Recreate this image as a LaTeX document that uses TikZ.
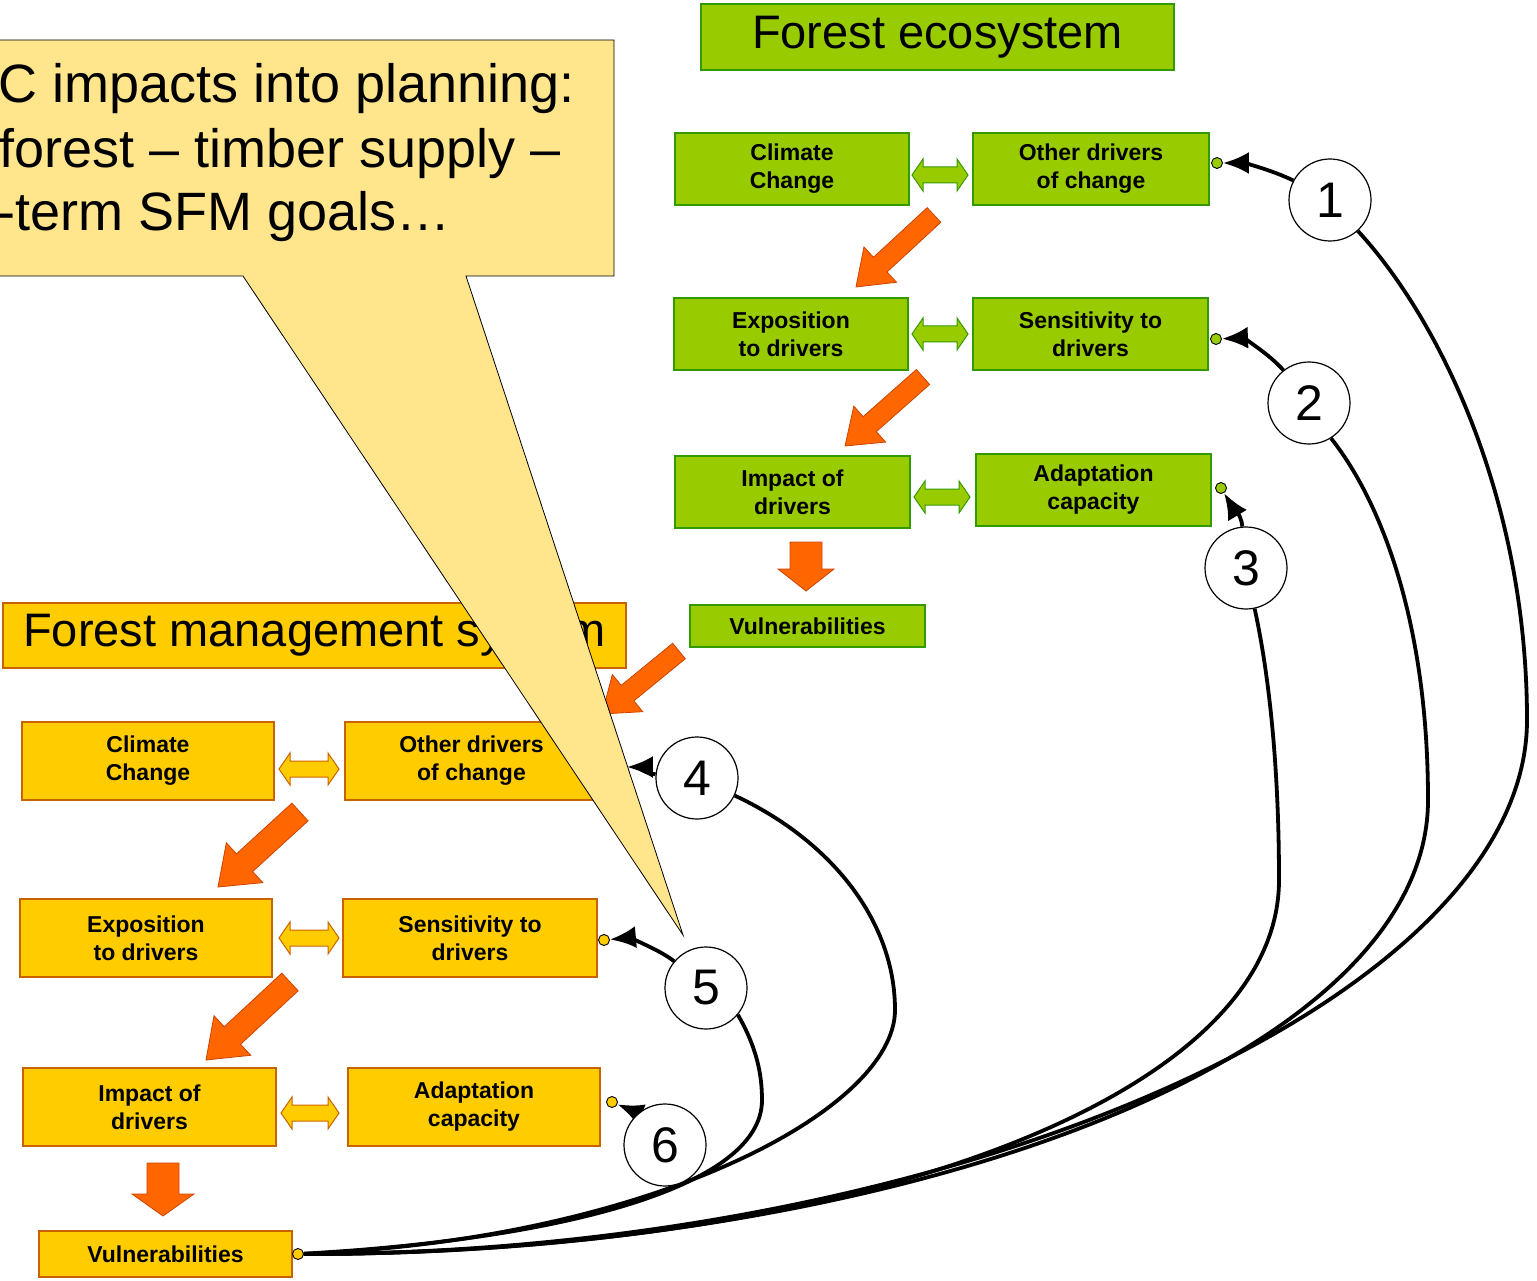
\documentclass[tikz,border=0pt]{standalone}
\usepackage{fontspec}
\setmainfont{Liberation Sans}
\usetikzlibrary{arrows.meta,calc}

\definecolor{ecogreen}{RGB}{153,204,0}
\definecolor{ecoline}{RGB}{51,153,0}
\definecolor{mgmtyellow}{RGB}{255,204,0}
\definecolor{mgmtline}{RGB}{200,100,0}
\definecolor{fatorange}{RGB}{255,102,0}
\definecolor{fatline}{RGB}{204,68,0}
\definecolor{bubblefill}{RGB}{255,230,140}

\pgfdeclarelayer{front}
\pgfsetlayers{main,front}

\tikzset{
  ebox/.style={draw=ecoline, fill=ecogreen, line width=1.2pt, align=center, inner sep=0pt, font=\fontsize{23}{28}\selectfont\bfseries},
  mbox/.style={draw=mgmtline, fill=mgmtyellow, line width=1.2pt, align=center, inner sep=0pt, font=\fontsize{23}{28}\selectfont\bfseries},
  titlebox/.style={font=\fontsize{47}{50}\selectfont},
  edbl/.style={draw=ecoline, fill=ecogreen, line width=1pt},
  mdbl/.style={draw=mgmtline, fill=mgmtyellow, line width=1pt},
  fatarr/.style={draw=fatline, fill=fatorange, line width=0.8pt},
  bubble/.style={draw=black, fill=bubblefill, line width=0.8pt},
  bubbletext/.style={anchor=base west, inner sep=0pt, font=\fontsize{54}{64}\selectfont},
  numc/.style={circle, draw, fill=white, line width=1.2pt, minimum size=82pt, inner sep=0pt, font=\fontsize{50}{50}\selectfont},
  edot/.style={circle, draw, fill=ecogreen, line width=0.9pt, minimum size=11pt, inner sep=0pt},
  mdot/.style={circle, draw, fill=mgmtyellow, line width=0.9pt, minimum size=11pt, inner sep=0pt},
  conn/.style={line width=3.8pt, black},
  arrowtip/.style={-{Latex[length=26pt,width=22pt]}}
}

% double arrow between two boxes: #1 style, #2 centre, #3 half length
\newcommand{\dblarrow}[3][]{%
  \draw[#1] (#2) ++(-#3,0) -- ++(11,-16) -- ++(0,8) -- ++({2*#3-22},0) -- ++(0,-8) -- ++(11,16)
    -- ++(-11,16) -- ++(0,-8) -- ++({-2*#3+22},0) -- ++(0,8) -- cycle;}

% block arrow: #1 tail, #2 tip, #3 head length, #4 head half width, #5 shaft half width
\newcommand{\fatarrow}[5]{%
  \filldraw[fatarr] (#2) -- ($(#2)!#3!(#1)!#4!90:(#1)$) -- ($(#2)!#3!(#1)!#5!90:(#1)$)
    -- ($(#1)!#5!-90:(#2)$) -- ($(#1)!#5!90:(#2)$)
    -- ($(#2)!#3!(#1)!#5!-90:(#1)$) -- ($(#2)!#3!(#1)!#4!-90:(#1)$) -- cycle;}

\begin{document}
\begin{tikzpicture}[x=1pt,y=-1pt]
\useasboundingbox (0,0) rectangle (1537,1281);
\clip (0,0) rectangle (1537,1281);

%Forest ecosystem
\node[ebox, titlebox, minimum width=473, minimum height=66] (eTitle) at (937.5,37) {Forest ecosystem};
\node[ebox, minimum width=234, minimum height=72] (eClim) at (792,169) {Climate\\Change};
\node[ebox, minimum width=236, minimum height=72] (eOther) at (1091,169) {Other drivers\\of change};
\node[ebox, minimum width=234, minimum height=72] (eExpo) at (791,334) {Exposition\\to drivers};
\node[ebox, minimum width=235, minimum height=72] (eSens) at (1090.5,334) {Sensitivity to\\drivers};
\node[ebox, minimum width=235, minimum height=72] (eImp) at (792.5,492) {Impact of\\drivers};
\node[ebox, minimum width=235, minimum height=72] (eAdapt) at (1093.5,490) {Adaptation\\capacity};
\node[ebox, minimum width=235, minimum height=42] (eVuln) at (807.5,626) {Vulnerabilities};
\dblarrow[edbl]{940,175}{28}
\dblarrow[edbl]{940,334}{28}
\dblarrow[edbl]{942,497}{28}
\fatarrow{934,215}{856,287}{33pt}{24pt}{10pt}
\fatarrow{923,377}{845,446}{33pt}{24pt}{10pt}
\fatarrow{806,542}{806,591}{22pt}{28pt}{16pt}

%Forest management system
\node[mbox, titlebox, minimum width=623, minimum height=65] (mTitle) at (314.5,635.5) {Forest management system};
\node[mbox, minimum width=252, minimum height=78] (mClim) at (148,761) {Climate\\Change};
\node[mbox, minimum width=253, minimum height=78] (mOther) at (471.5,761) {Other drivers\\of change};
\node[mbox, minimum width=252, minimum height=78] (mExpo) at (146,938) {Exposition\\to drivers};
\node[mbox, minimum width=254, minimum height=78] (mSens) at (470,938) {Sensitivity to\\drivers};
\node[mbox, minimum width=253, minimum height=78] (mImp) at (149.5,1107) {Impact of\\drivers};
\node[mbox, minimum width=252, minimum height=78] (mAdapt) at (474,1107) {Adaptation\\capacity};
\node[mbox, minimum width=253, minimum height=46] (mVuln) at (165.5,1254) {Vulnerabilities};
\dblarrow[mdbl]{309,769}{30}
\dblarrow[mdbl]{309,938}{30}
\dblarrow[mdbl]{310,1113}{29}
\fatarrow{300,812}{218,887}{36pt}{27pt}{12pt}
\fatarrow{290,982}{206,1060}{36pt}{27pt}{12pt}
\fatarrow{163,1163}{163,1216}{22pt}{31pt}{16pt}
\fatarrow{679,651}{602,714}{33pt}{24pt}{10pt}

%end points
\node[edot] (d1) at (1217,163) {};
\node[edot] (d2) at (1216,339) {};
\node[edot] (d3) at (1221,488) {};
\node[mdot] (d4) at (621,767) {};
\node[mdot] (d5) at (604,940) {};
\node[mdot] (d6) at (612,1102) {};
\node[mdot] (dv) at (298,1254) {};

%callout
\filldraw[bubble] (-20,40) -- (614,40) -- (614,276) -- (466,276) -- (683,935) -- (243,276) -- (-20,276) -- cycle;
\node[bubbletext] (bl1) at (-2,103) {C impacts into planning:};
\node[bubbletext] (bl2) at (-1,168) {forest – timber supply –};
\node[bubbletext] (bl3) at (-3,231) {-term SFM goals…};

\begin{pgfonlayer}{front}
\node[numc] (n1) at (1330,200) {1};
\node[numc] (n2) at (1309,403) {2};
\node[numc] (n3) at (1246,568) {3};
\node[numc] (n4) at (697,778) {4};
\node[numc] (n5) at (706,988) {5};
\node[numc] (n6) at (665,1145) {6};
\end{pgfonlayer}

%loops
\draw[conn] (dv) .. controls (950,1254) and (1527,1000) .. (1527,720) .. controls (1527,500) and (1440,320) .. (n1.-48);
\draw[conn] (dv) .. controls (900,1254) and (1428,1060) .. (1428,800) .. controls (1428,620) and (1380,500) .. (n2.-58);
\draw[conn] (dv) .. controls (850,1254) and (1279,1100) .. (1279,880) .. controls (1279,760) and (1268,670) .. (n3.-78);
\draw[conn] (n4.-25) .. controls (830,840) and (895,920) .. (895,1010) .. controls (895,1110) and (650,1240) .. (dv);
\draw[conn] (n5.-40) .. controls (757,1048) and (762,1075) .. (762,1100) .. controls (762,1190) and (550,1240) .. (dv);
\draw[conn, arrowtip] (n1.152) .. controls +(-25,-12) and +(25,0) .. (d1);
\draw[conn, arrowtip] (n2.128) .. controls +(-18,-20) and +(25,-1) .. (d2);
\draw[conn, arrowtip] (n3.95) .. controls +(-1,-14) and +(6,10) .. (d3);
\draw[conn, arrowtip] (n4.175) .. controls +(-12,-2) and +(12,0) .. (d4);
\draw[conn, arrowtip] (n5.140) .. controls +(-18,-14) and +(22,-2) .. (d5);
\draw[conn, arrowtip] (n6.130) -- (d6);
\end{tikzpicture}
\end{document}
